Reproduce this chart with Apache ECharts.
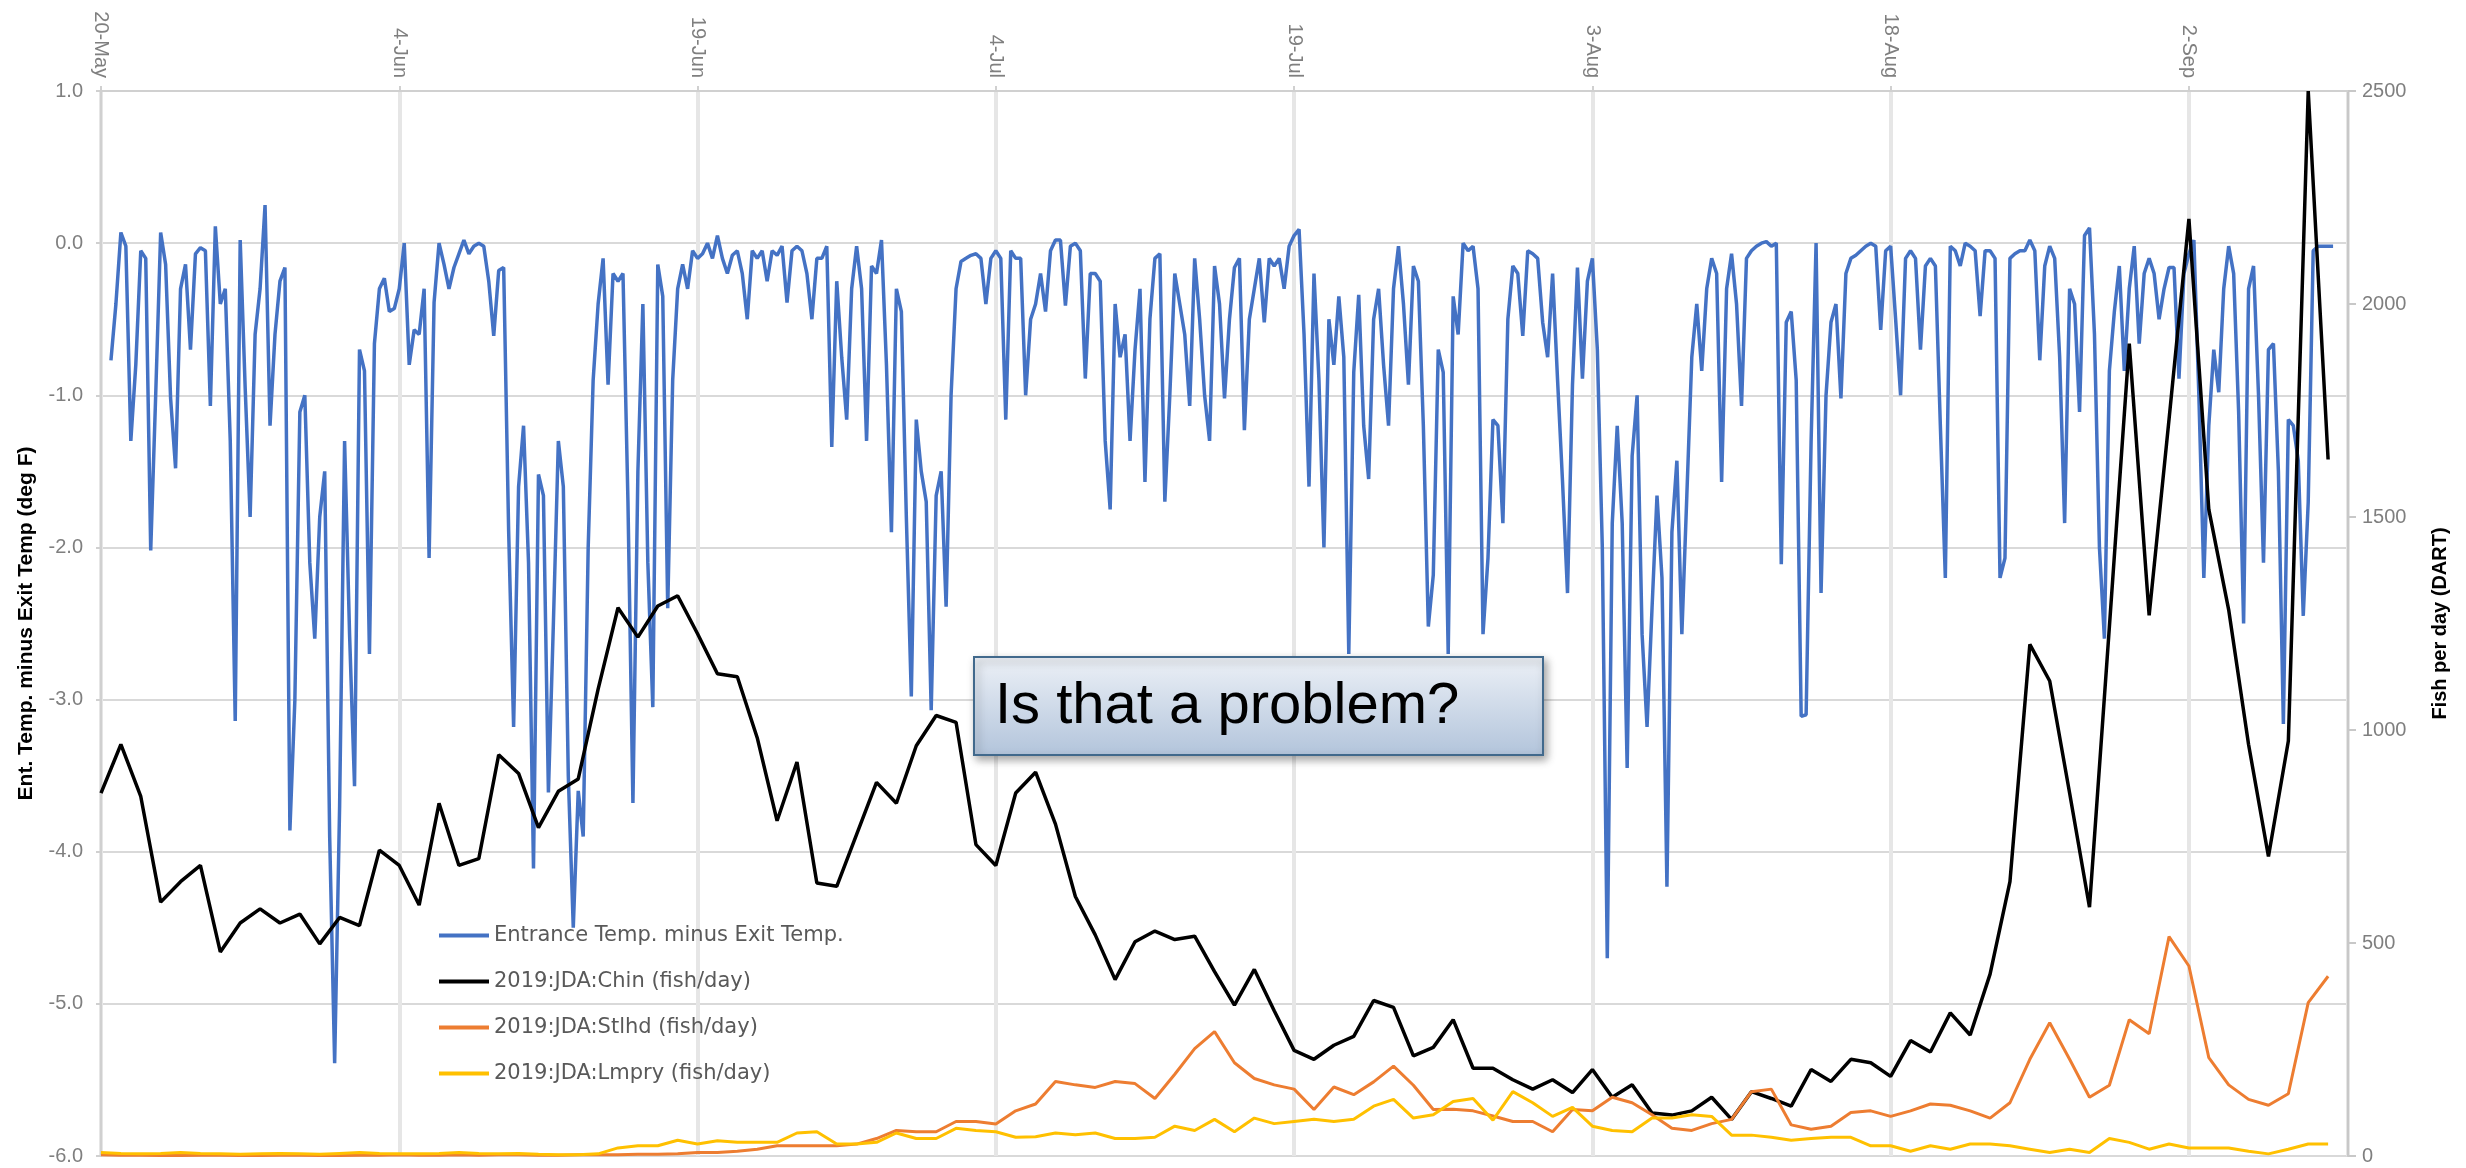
<!DOCTYPE html>
<html>
<head>
<meta charset="utf-8">
<script src="https://cdn.jsdelivr.net/npm/echarts@6/dist/echarts.min.js"></script>
<style>
    html, body { margin: 0; padding: 0; background: #ffffff; }
    #chart { width: 2466px; height: 1168px; }
</style>
</head>
<body>
<div id="chart"></div>
<script>
// date ticks every 15 days, counted in days from 20-May
var xTickLabels = ['20-May', '4-Jun', '19-Jun', '4-Jul', '19-Jul', '3-Aug', '18-Aug', '2-Sep'];
var leftTicks = [-6, -5, -4, -3, -2, -1, 0, 1];
var rightTicks = [0, 500, 1000, 1500, 2000, 2500];

// entrance minus exit temp, one reading every 6 hours from 20-May 00:00
var BLUE_STEP = 0.25;
var tempDiff = [
    null, null, -0.77, -0.4, 0.07, -0.02, -1.3, -0.8, -0.05, -0.1,
    -2.02, -1.0, 0.07, -0.14, -1.02, -1.48, -0.3, -0.14, -0.7, -0.07,
    -0.03, -0.05, -1.07, 0.11, -0.4, -0.3, -1.3, -3.14, 0.02, -0.95,
    -1.8, -0.6, -0.3, 0.25, -1.2, -0.6, -0.25, -0.16, -3.86, -3.0,
    -1.11, -1.0, -2.1, -2.6, -1.8, -1.5, -3.9, -5.39, -3.7, -1.3,
    -2.57, -3.57, -0.7, -0.84, -2.7, -0.66, -0.3, -0.23, -0.45, -0.43,
    -0.3, 0.0, -0.8, -0.57, -0.6, -0.3, -2.07, -0.39, 0.0, -0.14,
    -0.3, -0.16, -0.07, 0.02, -0.07, -0.02, 0.0, -0.02, -0.25, -0.61,
    -0.18, -0.16, -1.89, -3.18, -1.6, -1.2, -2.1, -4.11, -1.52, -1.66,
    -3.61, -2.5, -1.3, -1.6, -3.5, -4.5, -3.6, -3.9, -2.0, -0.9,
    -0.4, -0.1, -0.93, -0.2, -0.25, -0.2, -1.7, -3.68, -1.5, -0.4,
    -2.1, -3.05, -0.14, -0.35, -2.4, -0.9, -0.3, -0.14, -0.3, -0.05,
    -0.1, -0.07, 0.0, -0.1, 0.05, -0.1, -0.2, -0.08, -0.05, -0.2,
    -0.5, -0.05, -0.1, -0.05, -0.25, -0.05, -0.08, -0.02, -0.39, -0.05,
    -0.02, -0.05, -0.2, -0.5, -0.1, -0.1, -0.02, -1.34, -0.25, -0.75,
    -1.16, -0.3, -0.02, -0.3, -1.3, -0.15, -0.2, 0.02, -0.8, -1.9,
    -0.3, -0.45, -1.8, -2.98, -1.16, -1.5, -1.7, -3.07, -1.66, -1.5,
    -2.39, -1.0, -0.3, -0.12, -0.1, -0.08, -0.07, -0.1, -0.4, -0.1,
    -0.05, -0.1, -1.16, -0.05, -0.1, -0.1, -1.0, -0.5, -0.4, -0.2,
    -0.45, -0.05, 0.02, 0.02, -0.41, -0.02, 0.0, -0.05, -0.89, -0.2,
    -0.2, -0.25, -1.3, -1.75, -0.4, -0.75, -0.6, -1.3, -0.7, -0.3,
    -1.57, -0.5, -0.1, -0.07, -1.7, -1.0, -0.2, -0.4, -0.6, -1.07,
    -0.1, -0.5, -1.0, -1.3, -0.15, -0.4, -1.02, -0.5, -0.16, -0.1,
    -1.23, -0.5, -0.3, -0.1, -0.52, -0.1, -0.15, -0.1, -0.3, -0.02,
    0.05, 0.09, -0.6, -1.6, -0.2, -0.9, -2.0, -0.5, -0.8, -0.35,
    -0.75, -2.7, -0.85, -0.34, -1.2, -1.55, -0.5, -0.3, -0.8, -1.2,
    -0.3, -0.02, -0.4, -0.93, -0.15, -0.25, -1.2, -2.52, -2.18, -0.7,
    -0.85, -2.7, -0.35, -0.6, 0.0, -0.05, -0.02, -0.3, -2.57, -2.07,
    -1.16, -1.2, -1.84, -0.5, -0.15, -0.2, -0.61, -0.05, -0.07, -0.1,
    -0.52, -0.75, -0.2, -0.9, -1.57, -2.3, -0.93, -0.16, -0.89, -0.25,
    -0.1, -0.7, -2.0, -4.7, -1.84, -1.2, -1.84, -3.45, -1.4, -1.0,
    -2.57, -3.18, -2.4, -1.66, -2.2, -4.23, -1.9, -1.43, -2.57, -1.66,
    -0.75, -0.4, -0.84, -0.3, -0.1, -0.2, -1.57, -0.3, -0.07, -0.4,
    -1.07, -0.1, -0.05, -0.02, 0.0, 0.01, -0.02, 0.0, -2.11, -0.52,
    -0.45, -0.9, -3.11, -3.1, -1.3, 0.0, -2.3, -1.0, -0.52, -0.4,
    -1.02, -0.2, -0.1, -0.08, -0.05, -0.02, 0.0, -0.02, -0.57, -0.05,
    -0.02, -0.5, -1.0, -0.1, -0.05, -0.1, -0.7, -0.15, -0.1, -0.15,
    -1.2, -2.2, -0.02, -0.05, -0.15, 0.0, -0.02, -0.05, -0.48, -0.05,
    -0.05, -0.1, -2.2, -2.07, -0.1, -0.07, -0.05, -0.05, 0.02, -0.05,
    -0.77, -0.15, -0.02, -0.1, -0.75, -1.84, -0.3, -0.4, -1.11, 0.05,
    0.1, -0.6, -2.0, -2.6, -0.84, -0.45, -0.15, -0.84, -0.3, -0.02,
    -0.66, -0.2, -0.1, -0.2, -0.5, -0.3, -0.16, -0.16, -0.89, -0.2,
    -0.07, 0.02, -1.0, -2.2, -1.2, -0.7, -0.98, -0.3, -0.02, -0.2,
    -1.11, -2.5, -0.3, -0.15, -1.0, -2.1, -0.7, -0.66, -1.5, -3.16,
    -1.16, -1.2, -1.43, -2.45, -1.7, -0.05, -0.02, -0.02, -0.02, -0.02
];

// daily fish counts at JDA, one value per day from 20-May
var chinook = [
    852, 966, 844, 596, 644, 682, 479, 547, 580, 547,
    568, 498, 560, 541, 718, 682, 589, 828, 682, 698,
    942, 898, 771, 856, 885, 1096, 1287, 1218, 1291, 1315,
    1226, 1132, 1125, 982, 787, 925, 641, 633, 755, 877,
    828, 963, 1034, 1018, 731, 682, 852, 901, 779, 609,
    519, 414, 503, 528, 508, 516, 433, 354, 438, 341,
    248, 227, 260, 281, 365, 349, 235, 255, 320, 206,
    206, 179, 157, 179, 149, 203, 138, 167, 101, 96,
    106, 138, 86, 151, 135, 117, 203, 175, 227, 219,
    187, 271, 244, 336, 284, 427, 644, 1201, 1115, 852,
    584, 1242, 1907, 1269, 1729, 2200, 1518, 1282, 966, 703,
    974, 2500, 1635
];
var steelhead = [
    3, 2, 2, 1, 1, 2, 2, 1, 1, 2,
    2, 1, 1, 2, 2, 3, 2, 2, 3, 2,
    3, 3, 2, 2, 3, 3, 3, 4, 4, 5,
    8, 8, 11, 16, 24, 24, 24, 24, 28, 41,
    60, 57, 57, 81, 81, 75, 106, 122, 175, 167,
    161, 175, 170, 135, 192, 252, 292, 219, 182, 167,
    157, 109, 162, 144, 174, 211, 166, 109, 110, 106,
    94, 81, 81, 57, 109, 106, 138, 125, 97, 65,
    60, 76, 86, 151, 157, 73, 63, 70, 102, 106,
    93, 106, 122, 119, 106, 89, 125, 227, 313, 227,
    138, 166, 320, 287, 515, 446, 231, 167, 133, 119,
    146, 360, 422
];
var lamprey = [
    8, 6, 5, 6, 8, 6, 5, 4, 5, 6,
    5, 4, 6, 8, 6, 5, 5, 6, 8, 6,
    5, 6, 4, 3, 3, 5, 19, 24, 24, 37,
    28, 36, 32, 32, 32, 54, 57, 28, 28, 32,
    54, 41, 41, 65, 60, 57, 44, 45, 54, 50,
    54, 41, 41, 44, 70, 60, 86, 57, 89, 76,
    81, 86, 81, 86, 117, 133, 89, 97, 128, 135,
    84, 151, 125, 93, 114, 70, 60, 57, 89, 89,
    97, 93, 49, 49, 44, 37, 41, 44, 44, 24,
    24, 11, 24, 16, 28, 28, 24, 16, 8, 16,
    8, 41, 32, 16, 28, 19, 19, 19, 11, 5,
    16, 28, 28
];

var seriesNames = [
    'Entrance Temp. minus Exit Temp.',
    '2019:JDA:Chin (fish/day)',
    '2019:JDA:Stlhd (fish/day)',
    '2019:JDA:Lmpry (fish/day)'
];

(function () {
    var myChart = echarts.init(document.getElementById('chart'));

    var blueData = [];
    tempDiff.forEach(function (v, i) {
        if (v !== null) blueData.push([i * BLUE_STEP, v]);
    });
    function daily(arr) {
        return arr.map(function (v, i) { return [i, v]; });
    }

    var labelFont = 'Liberation Sans';
    var gray = '#7f7f7f';

    var option = {
        animation: false,
        backgroundColor: '#ffffff',
        grid: {
            left: 101,
            right: 118,
            top: 91,
            bottom: 12
        },
        legend: {
            orient: 'vertical',
            left: 434,
            top: 920,
            icon: 'rect',
            itemWidth: 50,
            itemHeight: 4,
            itemGap: 25,
            textStyle: {
                fontFamily: 'DejaVu Sans',
                fontSize: 21,
                color: '#595959'
            },
            data: seriesNames
        },
        xAxis: {
            type: 'value',
            position: 'top',
            min: 0,
            max: 113,
            interval: 15,
            axisLine: {
                show: true,
                onZero: false,
                lineStyle: { color: '#d0d0d0', width: 2 }
            },
            axisTick: {
                show: true,
                length: 5,
                lineStyle: { color: '#d0d0d0', width: 2 }
            },
            axisLabel: {
                rotate: 90,
                margin: 13,
                showMaxLabel: false,
                fontFamily: labelFont,
                fontSize: 20,
                color: gray,
                formatter: function (v) {
                    return v % 15 === 0 ? (xTickLabels[v / 15] || '') : '';
                }
            },
            splitLine: {
                show: true,
                lineStyle: { color: '#e6e6e6', width: 4 }
            }
        },
        yAxis: [
            {
                type: 'value',
                min: leftTicks[0],
                max: leftTicks[leftTicks.length - 1],
                interval: 1,
                name: 'Ent. Temp. minus Exit Temp (deg F)',
                nameLocation: 'middle',
                nameRotate: 90,
                nameGap: 64,
                nameTextStyle: {
                    fontFamily: labelFont,
                    fontSize: 21,
                    fontWeight: 'bold',
                    color: '#000000'
                },
                axisLine: {
                    show: true,
                    onZero: false,
                    lineStyle: { color: '#d0d0d0', width: 2 }
                },
                axisTick: {
                    show: true,
                    length: 5,
                    lineStyle: { color: '#d0d0d0', width: 2 }
                },
                axisLabel: {
                    margin: 18,
                    fontFamily: labelFont,
                    fontSize: 20,
                    color: gray,
                    formatter: function (v) { return v.toFixed(1); }
                },
                splitLine: {
                    show: true,
                    lineStyle: { color: '#d9d9d9', width: 2 }
                }
            },
            {
                type: 'value',
                position: 'right',
                min: rightTicks[0],
                max: rightTicks[rightTicks.length - 1],
                interval: 500,
                name: 'Fish per day (DART)',
                nameLocation: 'middle',
                nameRotate: 90,
                nameGap: 82,
                nameTextStyle: {
                    fontFamily: labelFont,
                    fontSize: 20,
                    fontWeight: 'bold',
                    color: '#000000'
                },
                axisLine: {
                    show: true,
                    onZero: false,
                    lineStyle: { color: '#c8c8c8', width: 2 }
                },
                axisTick: {
                    show: true,
                    length: 8,
                    lineStyle: { color: '#c8c8c8', width: 2 }
                },
                axisLabel: {
                    margin: 14,
                    fontFamily: labelFont,
                    fontSize: 20,
                    color: gray,
                    formatter: function (v) { return String(v); }
                },
                splitLine: { show: false }
            }
        ],
        series: [
            {
                name: seriesNames[0],
                type: 'line',
                yAxisIndex: 0,
                data: blueData,
                showSymbol: false,
                symbol: 'none',
                lineStyle: { color: '#4472c4', width: 3.5 },
                itemStyle: { color: '#4472c4' }
            },
            {
                name: seriesNames[1],
                type: 'line',
                yAxisIndex: 1,
                data: daily(chinook),
                showSymbol: false,
                symbol: 'none',
                lineStyle: { color: '#000000', width: 3.5 },
                itemStyle: { color: '#000000' }
            },
            {
                name: seriesNames[2],
                type: 'line',
                yAxisIndex: 1,
                data: daily(steelhead),
                showSymbol: false,
                symbol: 'none',
                lineStyle: { color: '#ed7d31', width: 3 },
                itemStyle: { color: '#ed7d31' }
            },
            {
                name: seriesNames[3],
                type: 'line',
                yAxisIndex: 1,
                data: daily(lamprey),
                showSymbol: false,
                symbol: 'none',
                lineStyle: { color: '#ffc000', width: 3 },
                itemStyle: { color: '#ffc000' }
            }
        ],
        // the callout box laid over the plot
        graphic: [
            {
                type: 'rect',
                z: 100,
                shape: { x: 974, y: 657, width: 569, height: 98 },
                style: {
                    fill: {
                        type: 'linear',
                        x: 0, y: 0, x2: 0, y2: 1,
                        colorStops: [
                            { offset: 0, color: '#edf1f7' },
                            { offset: 1, color: '#b2c4db' }
                        ]
                    },
                    stroke: '#41698c',
                    lineWidth: 2,
                    shadowBlur: 8,
                    shadowOffsetX: 3,
                    shadowOffsetY: 4,
                    shadowColor: 'rgba(0,0,0,0.35)'
                }
            },
            {
                type: 'text',
                z: 101,
                x: 995,
                y: 707,
                style: {
                    text: 'Is that a problem?',
                    fontFamily: labelFont,
                    fontSize: 58,
                    fill: '#000000',
                    verticalAlign: 'middle'
                }
            }
        ]
    };

    myChart.setOption(option);
})();
</script>
</body>
</html>
